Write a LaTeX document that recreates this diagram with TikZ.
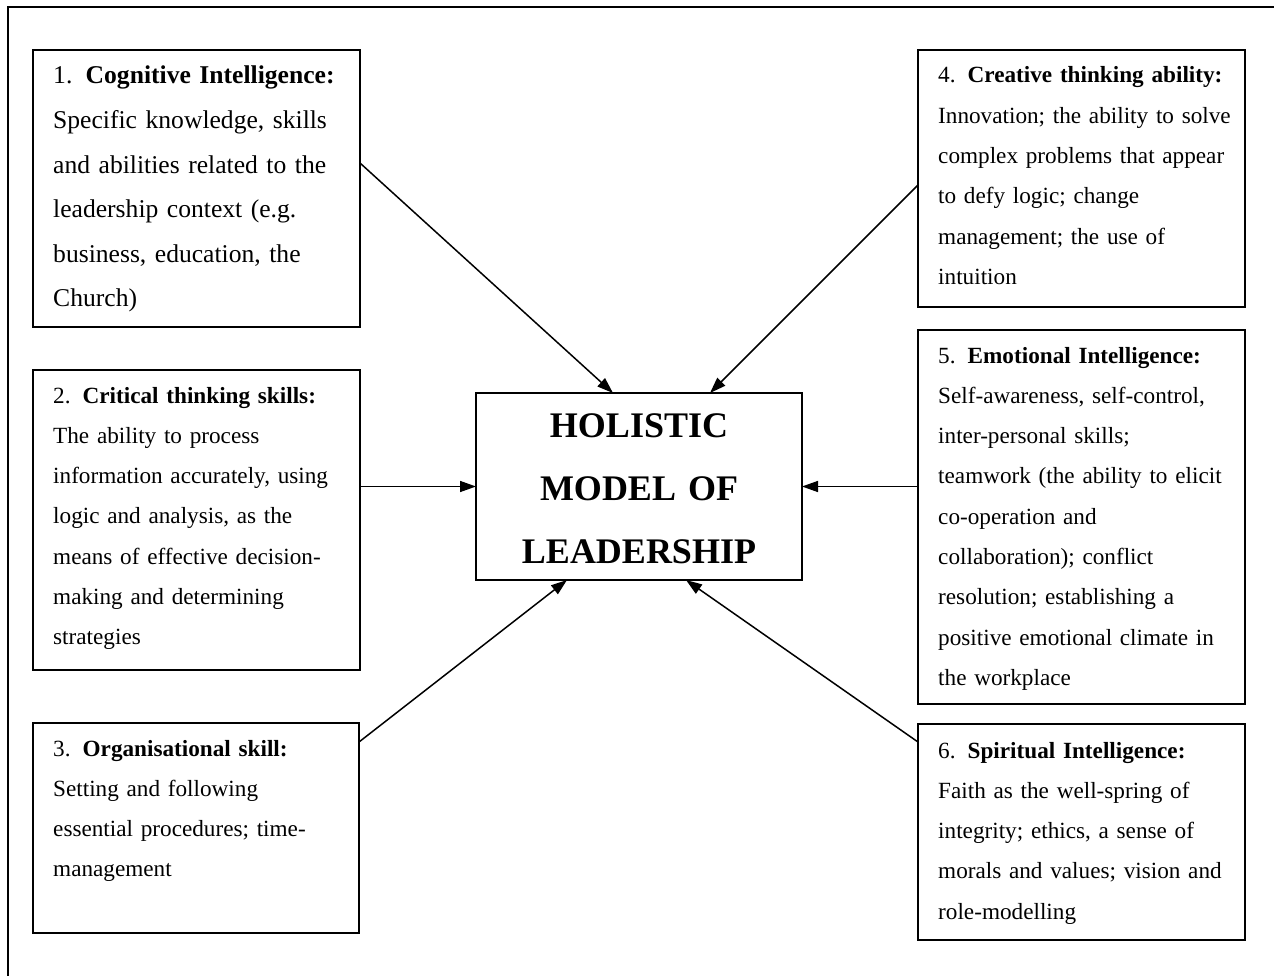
\documentclass[tikz,border=0pt]{standalone}
\usepackage{fontspec}
\setmainfont{Liberation Serif}
\usetikzlibrary{arrows.meta,calc}
\tikzset{
  box/.style={draw, line width=1.7pt, inner sep=0pt, outer sep=0pt, anchor=north west},
  bodytext/.style={anchor=base west, inner sep=0pt, text width=300pt, align=left,
     font=\fontsize{23.2}{40.3}\selectfont},
  bigtext/.style={bodytext, font=\fontsize{25.6}{44.6}\selectfont},
  arr/.style={line width=1.5pt, -{Triangle[length=16pt,width=11pt]}},
  frame/.style={line width=1.4pt}
}
\newcommand{\num}[1]{\makebox[1.27em][l]{#1}}
\begin{document}
\begin{tikzpicture}[x=1pt,y=-1pt]
\useasboundingbox (0,0) rectangle (1274,976);
% outer frame (top and left edges)
\coordinate (fl) at (8,976);
\coordinate (ftl) at (8,7);
\coordinate (ftr) at (1274,7);
\draw[frame] (fl) -- (ftl) -- (ftr);
% boxes
\node[box, minimum width=327pt, minimum height=277pt] (b1) at (33,50) {};
\node[box, minimum width=327pt, minimum height=300pt] (b2) at (33,370) {};
\node[box, minimum width=326pt, minimum height=210pt] (b3) at (33,723) {};
\node[box, minimum width=327pt, minimum height=257pt] (b4) at (918,50) {};
\node[box, minimum width=327pt, minimum height=374pt] (b5) at (918,330) {};
\node[box, minimum width=327pt, minimum height=216pt] (b6) at (918,724) {};
\node[box, minimum width=326pt, minimum height=187pt] (c) at (476,393) {};
% texts
\node[bigtext] (t1) at (53,84) {\num{1.}\textbf{Cognitive Intelligence:}\\
Specific knowledge, skills\\
and abilities related to the\\
leadership context (e.g.\\
business, education, the\\
Church)};
\node[bodytext] (t2) at (53,403) {\num{2.}\textbf{Critical thinking skills:}\\
The ability to process\\
information accurately, using\\
logic and analysis, as the\\
means of effective decision-\\
making and determining\\
strategies};
\node[bodytext] (t3) at (53,756) {\num{3.}\textbf{Organisational skill:}\\
Setting and following\\
essential procedures; time-\\
management};
\node[bodytext] (t4) at (938,83) {\num{4.}\textbf{Creative thinking ability:}\\
Innovation; the ability to solve\\
complex problems that appear\\
to defy logic; change\\
management; the use of\\
intuition};
\node[bodytext] (t5) at (938,363) {\num{5.}\textbf{Emotional Intelligence:}\\
Self-awareness, self-control,\\
inter-personal skills;\\
teamwork (the ability to elicit\\
co-operation and\\
collaboration); conflict\\
resolution; establishing a\\
positive emotional climate in\\
the workplace};
\node[bodytext] (t6) at (938,758) {\num{6.}\textbf{Spiritual Intelligence:}\\
Faith as the well-spring of\\
integrity; ethics, a sense of\\
morals and values; vision and\\
role-modelling};
\node[anchor=base, inner sep=0pt, text width=326pt, align=center,
      font=\fontsize{36}{63}\selectfont\bfseries] (ct) at (639,437) {HOLISTIC\\MODEL OF\\LEADERSHIP};
% arrows
\draw[arr] ([yshift=-113pt]b1.north east) -- ([xshift=137pt]c.north west);
\draw[arr] ([yshift=-135pt]b4.north west) -- ([xshift=234pt]c.north west);
\draw[arr] (b2.east |- c.west) -- (c.west);
\draw[arr] (b5.west |- c.east) -- (c.east);
\draw[arr] ([yshift=-19pt]b3.north east) -- ([xshift=91pt]c.south west);
\draw[arr] ([yshift=-18pt]b6.north west) -- ([xshift=210pt]c.south west);
\end{tikzpicture}
\end{document}
